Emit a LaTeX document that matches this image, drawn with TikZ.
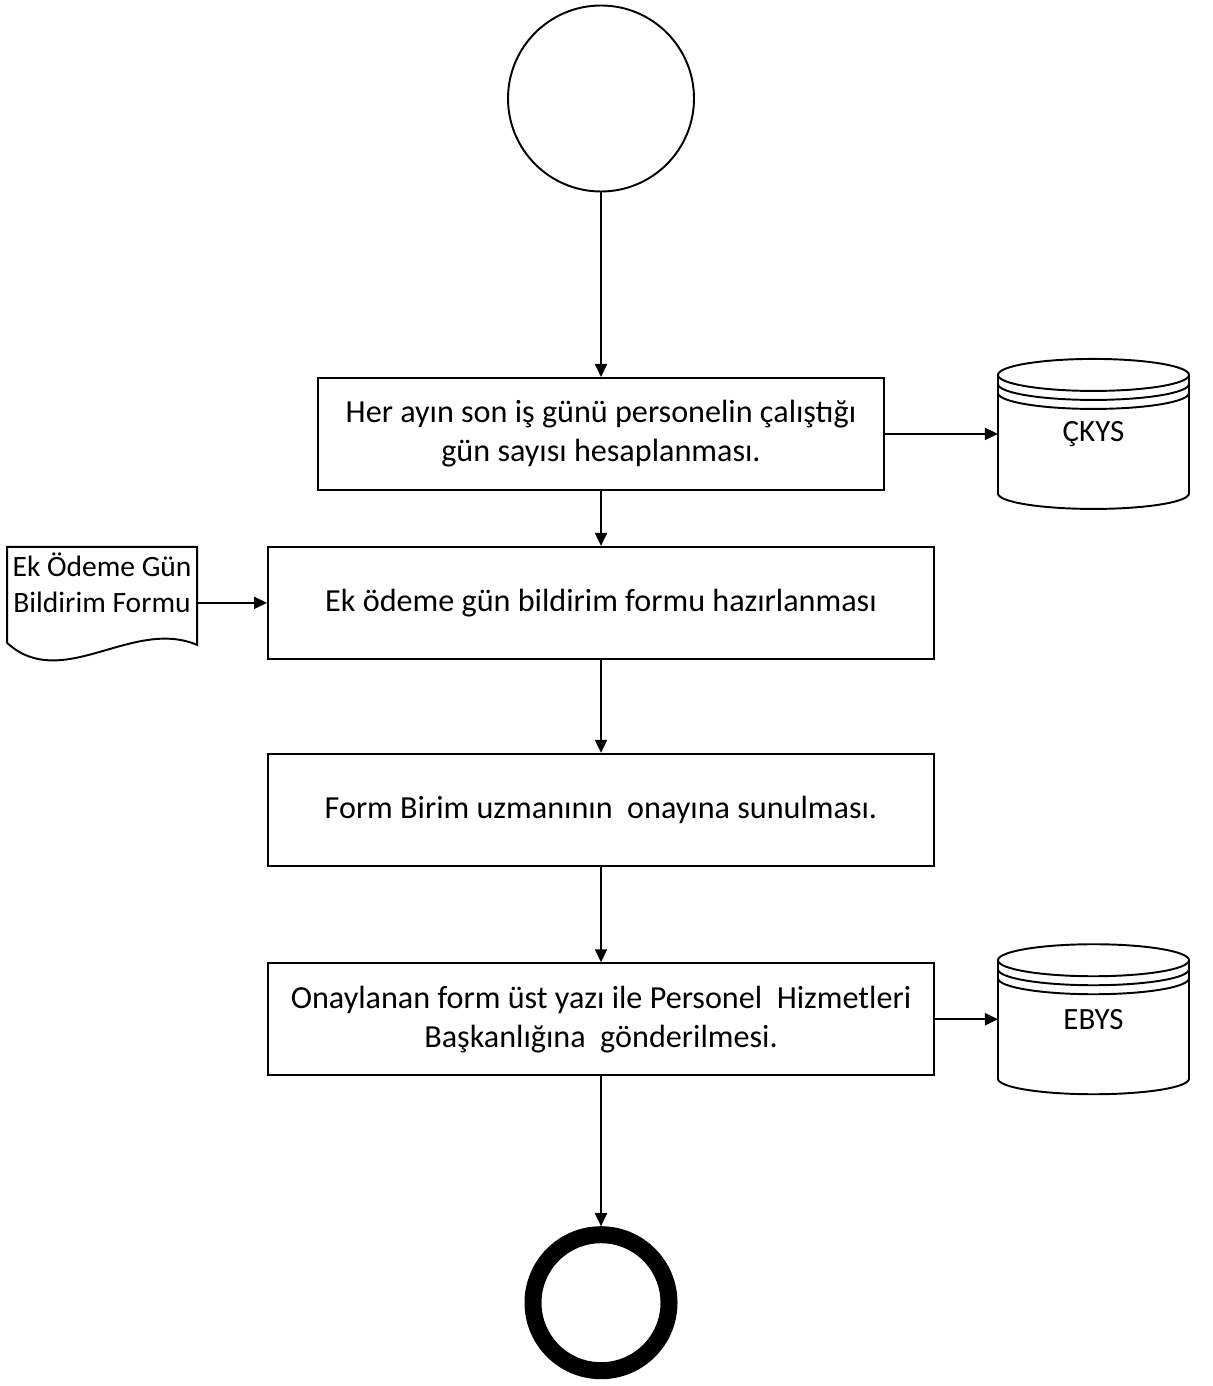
\documentclass[tikz,border=0pt]{standalone}
\usepackage{fontspec}
\setmainfont{Carlito}
\usetikzlibrary{arrows.meta, positioning, calc}

\begin{document}
\begin{tikzpicture}[
    font=\fontsize{18.3}{22.2}\selectfont,
    line width=1.1pt,
    process/.style={rectangle, draw, minimum height=2.24cm, minimum width=13.32cm,
                    align=center, inner sep=0pt},
    startnode/.style={circle, draw, minimum size=3.72cm, inner sep=0pt},
    endnode/.style={circle, draw, line width=0.34cm, minimum size=2.72cm, inner sep=0pt},
    db/.style={rectangle, minimum width=3.82cm, minimum height=3cm, inner sep=0pt,
               outer sep=0pt, font=\fontsize{17.6}{21.5}\selectfont},
    doc/.style={rectangle, minimum width=3.8cm, minimum height=2.24cm, inner sep=0pt,
                outer sep=0pt},
    arrow/.style={-{Triangle[length=2.6mm, width=2.4mm]}},
]
    \useasboundingbox (0,0) rectangle (24.26,-27.72);

    % --- main flow ---
    \node[startnode] (start) at (12.02,-1.97) {};
    \node[process, minimum width=11.32cm] (calc) [below=3.69cm of start]
        {Her ayın son iş günü personelin çalıştığı\\gün sayısı hesaplanması.};
    \node[process] (prep)    [below=1.1cm of calc] {Ek ödeme gün bildirim formu hazırlanması};
    \node[process] (approve) [below=1.86cm of prep] {Form Birim uzmanının\ \ onayına sunulması.};
    \node[process] (send)    [below=1.91cm of approve]
        {Onaylanan form üst yazı ile Personel\ \ Hizmetleri\\Başkanlığına\ \ gönderilmesi.};
    \node[endnode] (stop)    [below=3.0cm of send] {};

    \draw[arrow] (start) -- (calc);
    \draw[arrow] (calc) -- (prep);
    \draw[arrow] (prep) -- (approve);
    \draw[arrow] (approve) -- (send);
    \draw[arrow] (send) -- (stop);

    % --- databases ---
    \node[db] (ckys) [right=2.26cm of calc] {ÇKYS};
    \node[db] (ebys) [right=1.26cm of send] {EBYS};

    \foreach \d in {ckys, ebys} {
        \draw ($(\d.north)+(0,-0.32)$) ellipse [x radius=1.91, y radius=0.32];
        \draw ($(\d.north west)+(0,-0.5)$) arc [start angle=180, end angle=360, x radius=1.91, y radius=0.32];
        \draw ($(\d.north west)+(0,-0.68)$) arc [start angle=180, end angle=360, x radius=1.91, y radius=0.32];
        \draw ($(\d.north west)+(0,-0.32)$) -- ($(\d.south west)+(0,0.31)$)
            arc [start angle=180, end angle=360, x radius=1.91, y radius=0.31]
            -- ($(\d.north east)+(0,-0.32)$);
    }

    \draw[arrow] (calc) -- (ckys);
    \draw[arrow] (send) -- (ebys);

    % --- document ---
    \node[doc] (form) [left=1.4cm of prep] {};
    \node[align=center, inner sep=0pt, font=\fontsize{16.8}{20.8}\selectfont] (formtxt)
        at ($(form)+(0,0.4)$) {Ek Ödeme Gün\\Bildirim Formu};
    \draw (form.north west) -- ($(form.south west)+(0,0.32)$)
        .. controls +(1.1,-1.0) and +(-1.3,0.55) .. ($(form.south east)+(0,0.28)$)
        -- (form.north east) -- cycle;

    \draw[arrow] (form) -- (prep);
\end{tikzpicture}
\end{document}
